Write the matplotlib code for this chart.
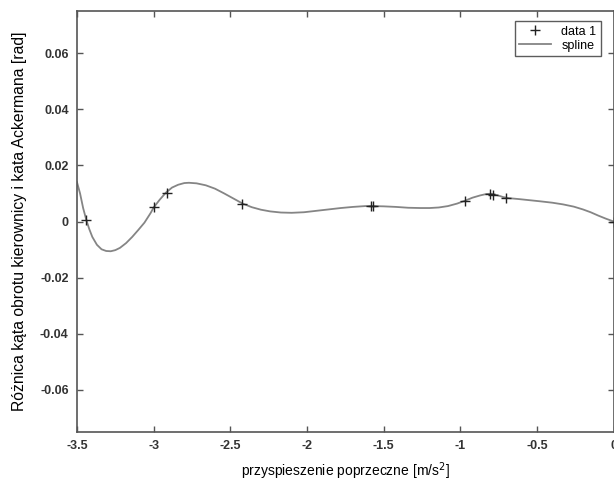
import matplotlib
matplotlib.use("Agg")
import matplotlib.pyplot as plt
from matplotlib.ticker import FuncFormatter

plt.rcParams["font.family"] = ["Liberation Sans", "DejaVu Sans"]

# measured points (+ markers)
data_x = [-3.44, -3.00, -2.915, -2.425, -1.582, -1.572, -0.972, -0.805, -0.790, -0.700, 0.0]
data_y = [0.0007, 0.0050, 0.0103, 0.0064, 0.0055, 0.0055, 0.0074, 0.0097, 0.0096, 0.0084, 0.0]

# spline curve
curve_x = [-3.50, -3.48, -3.46, -3.44, -3.42, -3.40, -3.37, -3.34, -3.31, -3.28,
           -3.25, -3.22, -3.18, -3.14, -3.10, -3.06, -3.02, -3.00, -2.96, -2.92,
           -2.88, -2.84, -2.80, -2.77, -2.72, -2.66, -2.60, -2.54, -2.48, -2.42,
           -2.36, -2.30, -2.24, -2.17, -2.10, -2.02, -1.94, -1.86, -1.78, -1.70,
           -1.62, -1.58, -1.50, -1.42, -1.34, -1.26, -1.20, -1.14, -1.08, -1.02,
           -0.97, -0.92, -0.87, -0.83, -0.80, -0.76, -0.72, -0.68, -0.62, -0.55,
           -0.48, -0.40, -0.33, -0.26, -0.20, -0.15, -0.10, -0.05, 0.00]
curve_y = [0.0140, 0.0100, 0.0048, 0.0007, -0.0027, -0.0055, -0.0083, -0.0099, -0.0105, -0.0106,
           -0.0102, -0.0094, -0.0077, -0.0055, -0.0030, -0.0004, 0.0030, 0.0050, 0.0078, 0.0103,
           0.0121, 0.0131, 0.0137, 0.0138, 0.0136, 0.0129, 0.0117, 0.0100, 0.0082, 0.0064,
           0.0051, 0.0042, 0.0036, 0.0032, 0.0031, 0.0033, 0.0038, 0.0043, 0.0048, 0.0052,
           0.0055, 0.0055, 0.0054, 0.0052, 0.0049, 0.0048, 0.0048, 0.0050, 0.0055, 0.0064,
           0.0074, 0.0085, 0.0093, 0.0098, 0.0099, 0.0094, 0.0087, 0.0083, 0.0080, 0.0076,
           0.0072, 0.0067, 0.0061, 0.0053, 0.0043, 0.0033, 0.0021, 0.0010, 0.0000]

x_ticks = [-3.5, -3, -2.5, -2, -1.5, -1, -0.5, 0]
y_ticks = [-0.06, -0.04, -0.02, 0, 0.02, 0.04, 0.06]

fig = plt.figure(figsize=(6.14, 4.83), dpi=100)
ax = fig.add_axes([0.1254, 0.1056, 0.874, 0.8716])

ax.plot(curve_x, curve_y, color="#858585", lw=1.3, label="spline", zorder=2)
ax.plot(data_x, data_y, "+", color="#222222", ms=7, mew=1.0, label="data 1", zorder=3)

ax.set_xlim(-3.5, 0)
ax.set_ylim(-0.075, 0.075)
ax.set_xticks(x_ticks)
ax.set_yticks(y_ticks)
ax.xaxis.set_major_formatter(FuncFormatter(lambda v, p: "%g" % v))
ax.yaxis.set_major_formatter(FuncFormatter(lambda v, p: "%g" % round(v, 2)))
ax.tick_params(direction="in", length=4, width=1, color="#555555",
               top=True, right=True, labelsize=9, pad=6)
for lab in ax.get_xticklabels() + ax.get_yticklabels():
    lab.set_fontweight("bold")
    lab.set_color("#333333")
for s in ax.spines.values():
    s.set_color("#555555")
    s.set_linewidth(1.2)

ax.set_xlabel("przyspieszenie poprzeczne [m/s$^2$]", fontsize=10, labelpad=6)
ax.set_ylabel("Różnica kąta obrotu kierownicy i kata Ackermana [rad]", fontsize=11.3, labelpad=9)

h, l = ax.get_legend_handles_labels()
leg = ax.legend(h[::-1], l[::-1], loc="upper right", fontsize=9, frameon=True,
                fancybox=False, edgecolor="#333333", borderpad=0.35,
                handlelength=2.6, labelspacing=0.15, bbox_to_anchor=(0.988, 0.99))
leg.get_frame().set_linewidth(1.0)

plt.savefig("out.png", dpi=100)
plt.close()
